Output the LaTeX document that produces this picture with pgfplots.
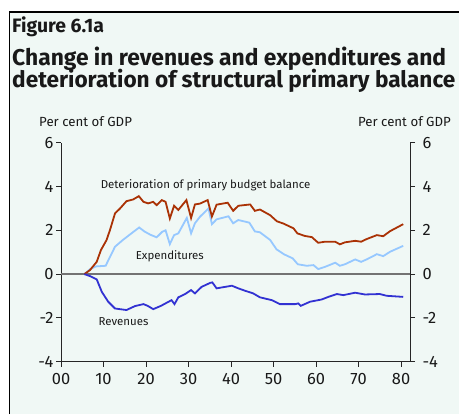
\documentclass[border=0pt]{standalone}
\usepackage{pgfplots}
\pgfplotsset{compat=1.18}
\usepackage{fontspec}
\setmainfont{Fira Sans}
\definecolor{bgc}{RGB}{240,248,245}
\definecolor{detc}{RGB}{170,50,5}
\definecolor{expc}{RGB}{150,200,255}
\definecolor{revc}{RGB}{50,50,210}
\definecolor{zeroc}{RGB}{115,115,115}
\definecolor{txtc}{RGB}{25,25,25}
\begin{document}
\begin{tikzpicture}[x=1bp,y=1bp]
\useasboundingbox (0,0) rectangle (459,414);
\fill[bgc] (9.5,0) rectangle (459,402);
\draw[black, line width=1.2bp] (9.5,0) -- (9.5,402) -- (459,402);
\node[anchor=base west, inner sep=0pt, text=txtc, font=\bfseries\fontsize{19.5}{19.5}\selectfont] at (12,381.7) {Figure 6.1a};
\node[anchor=base west, inner sep=0pt, text=txtc, font=\bfseries\fontsize{22.9}{22.9}\selectfont] at (12,348.3) {Change in revenues and expenditures and};
\node[anchor=base west, inner sep=0pt, text=txtc, font=\bfseries\fontsize{22.7}{22.7}\selectfont] at (12,326.3) {deterioration of structural primary balance};
\node[anchor=base west, inner sep=0pt, text=txtc, font=\fontsize{13.3}{13.3}\selectfont] at (39,288) {Per cent of GDP};
\node[anchor=base east, inner sep=0pt, text=txtc, font=\fontsize{13.3}{13.3}\selectfont] at (451,288) {Per cent of GDP};
\begin{axis}[
  at={(61bp,52.3bp)}, anchor=south west,
  scale only axis, width=349bp, height=219bp,
  xmin=0, xmax=82.1, ymin=-4, ymax=6,
  axis x line*=bottom, axis y line*=left,
  axis line style={-, black!85, line width=1bp},
  tick align=outside, major tick length=5bp,
  tick style={black!85, line width=1bp},
  xtick={0,10,20,30,40,50,60,70,80},
  xticklabels={00,10,20,30,40,50,60,70,80},
  ytick={-4,-2,0,2,4,6},
  yticklabels={-4,-2,0,2,4,6},
  ticklabel style={font=\fontsize{16.5}{16.5}\selectfont, text=txtc},
  xticklabel style={yshift=-3bp},
  yticklabel style={xshift=1bp},
  clip=false,
]
\addplot[zeroc, line width=2bp] coordinates {(0,0) (82.1,0)};
\addplot[expc, line width=1.8bp] coordinates {
(5.5,0) (6.8,0.22) (8.2,0.35) (10.5,0.38) (12.7,1.25) (14.5,1.55) (16.5,1.85) (18.4,2.13)
(19.6,1.95) (21.0,1.8) (22.5,1.68) (23.8,1.93) (24.6,2.0) (25.6,1.37) (26.6,1.78) (27.6,1.86)
(29.6,2.57) (30.6,1.86) (31.5,2.32) (32.7,2.62) (34.7,3.0) (35.5,2.28) (36.6,2.5) (39.4,2.64)
(40.5,2.32) (41.7,2.47) (44.3,2.35) (45.6,1.95) (46.8,1.91) (49.2,1.56) (50.7,1.13) (52.5,0.9)
(54.5,0.72) (55.7,0.45) (57.8,0.38) (59.4,0.41) (60.5,0.23) (62.1,0.33) (64.5,0.52) (65.6,0.38)
(66.8,0.45) (69.2,0.67) (70.6,0.56) (71.9,0.67) (74.3,0.91) (75.8,0.82) (77.4,1.02) (80.5,1.29)};
\addplot[detc, line width=1.8bp] coordinates {
(5.5,0) (6.8,0.18) (8.4,0.56) (9.4,1.1) (10.7,1.55) (11.5,2.0) (12.7,2.77) (13.9,3.0)
(15.4,3.33) (17.0,3.41) (18.3,3.56) (19.4,3.3) (20.5,3.23) (21.7,3.3) (22.5,3.15) (23.7,3.38)
(24.6,3.3) (25.6,2.54) (26.6,3.12) (27.6,2.93) (29.5,3.38) (30.6,2.56) (31.5,3.18) (32.7,3.22)
(34.5,3.38) (35.5,2.63) (36.6,3.17) (39.2,3.26) (40.5,2.89) (41.7,3.12) (44.5,3.18) (45.6,2.89)
(46.8,2.95) (49.2,2.69) (50.8,2.41) (52.3,2.31) (54.7,2.09) (55.6,1.86) (57.4,1.74) (59.0,1.69)
(60.5,1.43) (62.1,1.48) (64.5,1.48) (65.6,1.36) (66.8,1.45) (69.2,1.52) (70.6,1.48) (71.9,1.6)
(74.3,1.78) (75.8,1.73) (77.4,1.96) (80.5,2.28)};
\addplot[revc, line width=1.8bp] coordinates {
(5.5,0) (6.8,-0.09) (8.4,-0.24) (9.6,-0.81) (11.1,-1.26) (12.7,-1.57) (15.4,-1.64) (17.4,-1.46)
(19.4,-1.37) (20.4,-1.45) (21.7,-1.6) (23.5,-1.45) (26.0,-1.19) (26.7,-1.37) (27.6,-1.06) (29.2,-0.91)
(30.6,-0.73) (31.5,-0.88) (33.1,-0.58) (35.1,-0.4) (35.6,-0.38) (36.6,-0.65) (40.2,-0.53) (41.7,-0.65)
(43.3,-0.76) (45.2,-0.88) (46.8,-1.06) (49.6,-1.19) (51.5,-1.37) (55.1,-1.37) (55.8,-1.34) (56.4,-1.45)
(58.6,-1.26) (61.3,-1.16) (62.9,-1.04) (64.9,-0.91) (66.4,-0.96) (69.2,-0.85) (71.5,-0.93) (75.0,-0.91)
(76.6,-0.99) (80.5,-1.04)};
\node[font=\fontsize{11.5}{11.5}\selectfont, text=txtc] at (axis cs:34,4.06) {Deterioration of primary budget balance};
\node[font=\fontsize{11.5}{11.5}\selectfont, text=txtc] at (axis cs:25.6,0.82) {Expenditures};
\node[font=\fontsize{11.5}{11.5}\selectfont, text=txtc] at (axis cs:14.7,-2.15) {Revenues};
\end{axis}
\begin{axis}[
  at={(61bp,52.3bp)}, anchor=south west,
  scale only axis, width=349bp, height=219bp,
  xmin=0, xmax=82.1, ymin=-4, ymax=6,
  axis x line=none, axis y line*=right,
  axis line style={-, black!85, line width=1bp},
  tick align=outside, major tick length=5bp,
  tick style={black!85, line width=1bp},
  ytick={-4,-2,0,2,4,6},
  yticklabels={-4,-2,0,2,4,6},
  ticklabel style={font=\fontsize{16.5}{16.5}\selectfont, text=txtc},
  yticklabel style={xshift=4bp},
]
\end{axis}
\end{tikzpicture}
\end{document}
